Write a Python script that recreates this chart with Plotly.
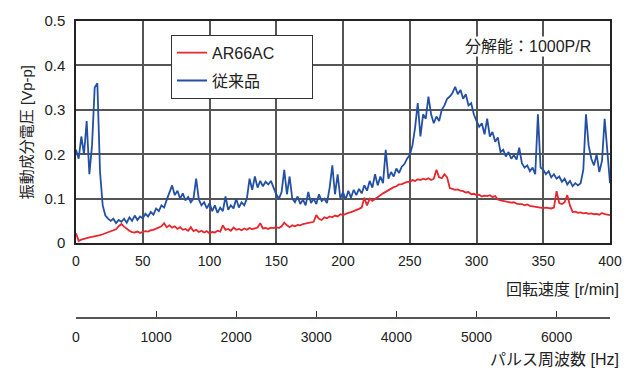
import plotly.graph_objects as go

# Rotation speed samples [r/min], every 2 r/min from 0 to 400
rpm = list(range(0, 401, 2))

# Vibration component voltage [Vp-p]
ar66ac = [
    0.022, 0.005, 0.008, 0.010, 0.011, 0.013, 0.014, 0.015, 0.017, 0.018,
    0.020, 0.022, 0.024, 0.026, 0.028, 0.031, 0.038, 0.043, 0.037, 0.032,
    0.028, 0.025, 0.024, 0.026, 0.023, 0.025, 0.027, 0.026, 0.029, 0.030,
    0.033, 0.035, 0.038, 0.045, 0.036, 0.040, 0.035, 0.038, 0.032, 0.036,
    0.030, 0.032, 0.028, 0.036, 0.027, 0.030, 0.025, 0.028, 0.024, 0.027,
    0.022, 0.025, 0.024, 0.028, 0.026, 0.040, 0.030, 0.032, 0.028, 0.035,
    0.030, 0.032, 0.029, 0.033, 0.030, 0.034, 0.031, 0.033, 0.035, 0.045,
    0.033, 0.034, 0.032, 0.035, 0.034, 0.036, 0.034, 0.038, 0.046, 0.040,
    0.036, 0.040, 0.038, 0.041, 0.040, 0.043, 0.044, 0.045, 0.047, 0.048,
    0.063, 0.055, 0.052, 0.058, 0.056, 0.060, 0.058, 0.062, 0.060, 0.065,
    0.063, 0.066, 0.068, 0.070, 0.072, 0.074, 0.077, 0.080, 0.102, 0.085,
    0.100, 0.095, 0.100, 0.104, 0.108, 0.112, 0.116, 0.120, 0.122, 0.126,
    0.128, 0.132, 0.133, 0.136, 0.138, 0.138, 0.142, 0.140, 0.144, 0.142,
    0.145, 0.143, 0.146, 0.142, 0.145, 0.165, 0.148, 0.146, 0.155, 0.148,
    0.124, 0.122, 0.120, 0.121, 0.118, 0.117, 0.114, 0.115, 0.110, 0.111,
    0.108, 0.109, 0.105, 0.107, 0.106, 0.108, 0.104, 0.106, 0.098, 0.096,
    0.095, 0.094, 0.093, 0.091, 0.092, 0.089, 0.088, 0.088, 0.085, 0.087,
    0.084, 0.083, 0.082, 0.081, 0.080, 0.079, 0.080, 0.079, 0.078, 0.080,
    0.117, 0.090, 0.088, 0.092, 0.108, 0.085, 0.070, 0.071, 0.068, 0.069,
    0.067, 0.068, 0.066, 0.067, 0.065, 0.066, 0.064, 0.068, 0.065, 0.064,
    0.063,
]

conventional = [
    0.210, 0.190, 0.240, 0.200, 0.275, 0.155, 0.220, 0.350, 0.360, 0.160,
    0.085, 0.062, 0.055, 0.050, 0.055, 0.045, 0.052, 0.048, 0.055, 0.046,
    0.058, 0.050, 0.062, 0.052, 0.060, 0.056, 0.066, 0.060, 0.070, 0.064,
    0.078, 0.072, 0.085, 0.080, 0.098, 0.112, 0.130, 0.108, 0.118, 0.100,
    0.112, 0.096, 0.104, 0.092, 0.100, 0.145, 0.098, 0.085, 0.092, 0.078,
    0.090, 0.072, 0.085, 0.068, 0.080, 0.072, 0.105, 0.075, 0.085, 0.078,
    0.100, 0.080, 0.092, 0.085, 0.100, 0.145, 0.120, 0.150, 0.125, 0.140,
    0.128, 0.138, 0.132, 0.140, 0.125, 0.110, 0.100, 0.115, 0.165, 0.110,
    0.150, 0.100, 0.092, 0.105, 0.088, 0.098, 0.085, 0.115, 0.090, 0.100,
    0.088, 0.110, 0.095, 0.100, 0.090, 0.125, 0.175, 0.110, 0.155, 0.100,
    0.115, 0.098, 0.118, 0.102, 0.120, 0.108, 0.122, 0.112, 0.130, 0.118,
    0.140, 0.125, 0.155, 0.130, 0.150, 0.135, 0.210, 0.145, 0.160, 0.150,
    0.168, 0.158, 0.172, 0.178, 0.190, 0.198, 0.220, 0.260, 0.315, 0.240,
    0.290, 0.280, 0.330, 0.290, 0.270, 0.285, 0.275, 0.300, 0.310, 0.325,
    0.330, 0.338, 0.352, 0.335, 0.345, 0.325, 0.335, 0.310, 0.315, 0.290,
    0.275, 0.262, 0.270, 0.245, 0.280, 0.240, 0.250, 0.228, 0.238, 0.205,
    0.210, 0.195, 0.205, 0.190, 0.198, 0.188, 0.215, 0.180, 0.170, 0.175,
    0.162, 0.170, 0.155, 0.290, 0.170, 0.165, 0.155, 0.162, 0.148, 0.155,
    0.145, 0.150, 0.138, 0.145, 0.132, 0.140, 0.128, 0.135, 0.130, 0.135,
    0.165, 0.290, 0.220, 0.190, 0.175, 0.200, 0.160, 0.185, 0.280, 0.200,
    0.135,
]

# Encoder resolution: pulses per revolution
pulses_per_rev = 1000
hz_max = 400 * pulses_per_rev / 60
hz_ticks = [0, 1000, 2000, 3000, 4000, 5000, 6000]

FONT = "Liberation Sans, Arial, Noto Sans CJK JP, sans-serif"
GRID = "#555555"
PAD = "\u3000\u3000"  # keeps the legend box roomy on the right

fig = go.Figure()
fig.add_trace(go.Scatter(x=rpm, y=ar66ac, mode="lines", name="AR66AC" + PAD, legendgroup="a",
                         line=dict(color="#e8262d", width=1.8)))
fig.add_trace(go.Scatter(x=rpm, y=conventional, mode="lines", name="従来品" + PAD, legendgroup="b",
                         line=dict(color="#2450a3", width=1.8)))
# invisible trace carrying the pulse-frequency axis
fig.add_trace(go.Scatter(x=[0, hz_max], y=[None, None], xaxis="x2",
                         showlegend=False, hoverinfo="skip"))

plot_top, plot_bottom = 17, 330
h = plot_bottom - plot_top
y_dom0 = (plot_bottom - 242) / h
hz_pos = (plot_bottom - 318) / h

fig.update_layout(
    width=636, height=371,
    margin=dict(l=76, r=26, t=plot_top, b=371 - plot_bottom),
    paper_bgcolor="white", plot_bgcolor="white",
    font=dict(family=FONT, size=14, color="#222222"),
    xaxis=dict(range=[0, 400], dtick=50, showgrid=True, gridcolor=GRID, gridwidth=1.5,
               showline=True, linecolor="#222222", linewidth=1.5, mirror=True,
               ticks="", zeroline=False, tickfont=dict(size=14), ticklabelstandoff=4),
    yaxis=dict(domain=[y_dom0, 1], range=[0, 0.5], dtick=0.1, tickformat=".1~f",
               showgrid=True, gridcolor=GRID, gridwidth=1.5,
               showline=True, linecolor="#222222", linewidth=1.5, mirror=True,
               ticks="", zeroline=False, tickfont=dict(size=15), ticklabelstandoff=6,
               title=dict(text="振動成分電圧 [Vp-p]", font=dict(size=15), standoff=8)),
    xaxis2=dict(range=[0, 400 * pulses_per_rev / 60], anchor="free", position=hz_pos,
                overlaying="x", side="bottom", tickvals=hz_ticks, showgrid=False,
                showline=True, linecolor="#555555", linewidth=1.5, zeroline=False,
                ticks="inside", ticklen=6, tickcolor="#333333", tickwidth=1,
                tickfont=dict(size=14), ticklabelstandoff=6),
    legend=dict(x=(171 - 76) / 534, y=(plot_bottom - 31) / h, xanchor="left", yanchor="top",
                bgcolor="white", bordercolor="#333333", borderwidth=1,
                font=dict(size=16), itemwidth=30, tracegroupgap=4),
    showlegend=True,
)

fig.add_annotation(text="分解能：1000P/R", xref="paper", yref="paper",
                   x=(593 - 76) / 534, y=(plot_bottom - 43) / h, xanchor="right", yanchor="middle",
                   showarrow=False, bgcolor="white", font=dict(size=16))
fig.add_annotation(text="回転速度 [r/min]", xref="paper", yref="paper",
                   x=(621 - 76) / 534, y=(plot_bottom - 289) / h, xanchor="right", yanchor="middle",
                   showarrow=False, font=dict(size=16))
fig.add_annotation(text="パルス周波数 [Hz]", xref="paper", yref="paper",
                   x=(621 - 76) / 534, y=(plot_bottom - 360) / h, xanchor="right", yanchor="middle",
                   showarrow=False, font=dict(size=16))

fig.write_html("out.html")
